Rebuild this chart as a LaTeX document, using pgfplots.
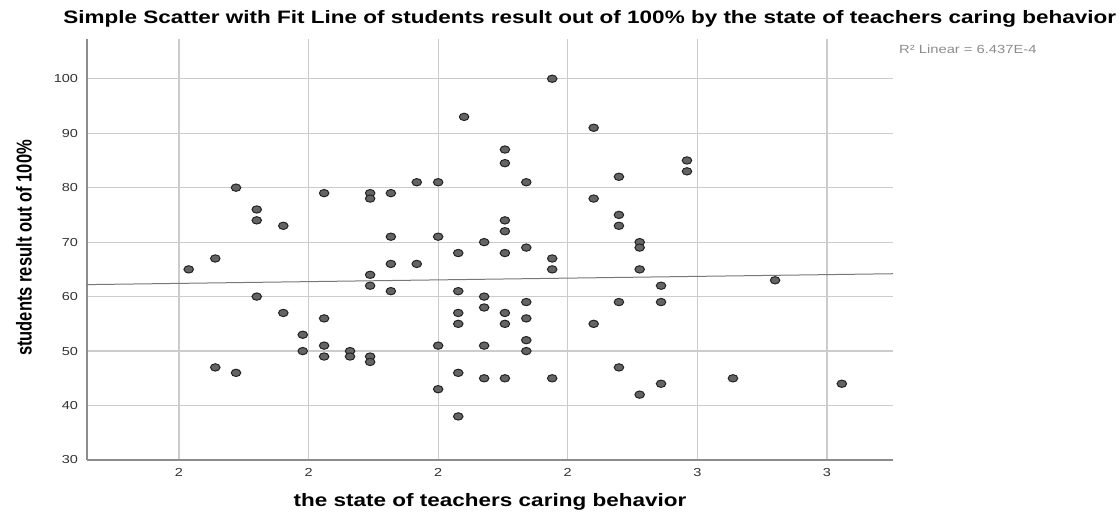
\documentclass[border=0pt]{standalone}
\usepackage{fontspec}
\setmainfont{Liberation Sans}[FakeStretch=1.25]
\newfontfamily\narrowsans{Liberation Sans}
\usepackage{pgfplots}
\pgfplotsset{compat=1.18}

\definecolor{gridgray}{RGB}{204,204,204}
\definecolor{axisgray}{RGB}{140,140,140}
\definecolor{dotfill}{RGB}{100,100,100}
\definecolor{dotedge}{RGB}{35,35,35}
\definecolor{ticktext}{RGB}{50,50,50}
\definecolor{rgray}{RGB}{140,140,140}
\definecolor{fitgray}{RGB}{120,120,120}

\begin{document}
\begin{tikzpicture}
\begin{axis}[
    scale only axis,
    width=604.5pt, height=315.75pt,
    xmin=1.658, xmax=2.902,
    ymin=30, ymax=107.3,
    xtick={1.8,2.0,2.2,2.4,2.6,2.8},
    xticklabels={2,2,2,2,3,3},
    ytick={30,40,...,100},
    grid=major,
    major grid style={draw=gridgray, line width=0.9pt},
    axis lines*=left,
    axis line style={draw=axisgray, line width=1.1pt},
    major tick length=0pt,
    clip=false,
    /pgf/number format/assume math mode=true,
    tick label style={font=\fontsize{8.7}{10}\selectfont, text=ticktext},
    xticklabel style={anchor=base, yshift=-12.5pt},
    yticklabel style={anchor=east, inner sep=0pt, xshift=-6.5pt},
    title={Simple Scatter with Fit Line of students result out of 100\% by the state of teachers caring behavior},
    title style={font=\bfseries\fontsize{13.5}{16}\selectfont, at={(axis description cs:0.6238,1.018)}, anchor=base, inner sep=0pt},
    xlabel={the state of teachers caring behavior},
    xlabel style={font=\bfseries\fontsize{13.5}{16}\selectfont, at={(axis description cs:0.5,-0.1105)}, anchor=base, inner sep=0pt},
    ylabel={\scalebox{1}[1.3]{\narrowsans\bfseries\fontsize{12.4}{14}\selectfont students result out of 100\%}},
    ylabel style={at={(axis description cs:-0.0686,0.5036)}, anchor=base, inner sep=0pt},
]
\addplot[only marks, mark=*, mark size=2.75pt,
    mark options={xscale=1.3, fill=dotfill, draw=dotedge, line width=0.75pt}]
coordinates {
(1.815,65)
(1.856,67) (1.856,47)
(1.888,80) (1.888,46)
(1.920,76) (1.920,74) (1.920,60)
(1.961,73) (1.961,57)
(1.991,53) (1.991,50)
(2.024,79) (2.024,56) (2.024,51) (2.024,49)
(2.064,50) (2.064,49)
(2.095,79) (2.095,78) (2.095,64) (2.095,62) (2.095,49) (2.095,48)
(2.127,79) (2.127,71) (2.127,66) (2.127,61)
(2.167,81) (2.167,66)
(2.200,81) (2.200,71) (2.200,51) (2.200,43)
(2.231,68) (2.231,61) (2.231,57) (2.231,55) (2.231,46) (2.231,38)
(2.240,93)
(2.271,70) (2.271,60) (2.271,58) (2.271,51) (2.271,45)
(2.303,87) (2.303,84.5) (2.303,74) (2.303,72) (2.303,68) (2.303,57) (2.303,55) (2.303,45)
(2.336,81) (2.336,69) (2.336,59) (2.336,56) (2.336,52) (2.336,50)
(2.376,100) (2.376,67) (2.376,65) (2.376,45)
(2.440,91) (2.440,78) (2.440,55)
(2.479,82) (2.479,75) (2.479,73) (2.479,59) (2.479,47)
(2.511,70) (2.511,69) (2.511,65) (2.511,42)
(2.544,62) (2.544,59) (2.544,44)
(2.584,85) (2.584,83)
(2.655,45)
(2.720,63)
(2.823,44)
};
% linear fit line
\addplot[fitgray, line width=0.75pt] coordinates {(1.658,62.2) (2.902,64.2)};
\node[anchor=base west, inner sep=0pt, font=\fontsize{8.85}{10}\selectfont, text=rgray]
    at (rel axis cs:1.0074,0.9644) {R² Linear = 6.437E-4};
\end{axis}
\pgfresetboundingbox
\path[use as bounding box] (-65.25pt,-38.25pt) rectangle (774.75pt,345pt);
\end{tikzpicture}
\end{document}
